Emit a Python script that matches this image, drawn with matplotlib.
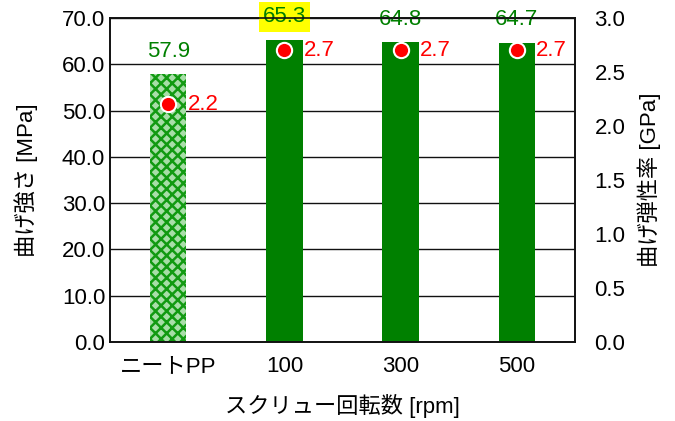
import numpy as np
import matplotlib.pyplot as plt

plt.rcParams['font.family'] = ['Liberation Sans', 'Noto Sans CJK JP']
plt.rcParams['hatch.linewidth'] = 1.8

# data
categories = ["ニートPP", "100", "300", "500"]
strength = [57.9, 65.3, 64.8, 64.7]      # 曲げ強さ [MPa]
modulus = [2.2, 2.7, 2.7, 2.7]           # 曲げ弾性率 [GPa]

green = "#008000"
red = "#ff0000"
fs = 16

fig = plt.figure(figsize=(6.75, 4.21), dpi=100)
ax = fig.add_axes([110 / 675, 1 - 342 / 421, 465 / 675, 324 / 421])
ax2 = ax.twinx()

x = np.arange(len(categories))

# bars: neat PP is hatched, the rest solid
bars = ax.bar(x, strength, width=0.315, color=green, zorder=2)
bars[0].set_facecolor("#a8dea8")
bars[0].set_edgecolor("#129a12")
bars[0].set_hatch("xxx")
bars[0].set_linewidth(0)

ax.set_xlim(-0.5, len(categories) - 0.5)
ax.set_ylim(0, 70)
ax.set_yticks(np.arange(0, 71, 10))
ax.set_yticklabels([f"{v:.1f}" for v in np.arange(0, 71, 10)])
ax.set_xticks(x)
ax.set_xticklabels(categories)
ax.grid(axis="y", color="#111111", linewidth=1.0, zorder=0)
ax.set_axisbelow(True)
ax.tick_params(length=0, labelsize=fs, pad=3.5)
ax.tick_params(axis="x", pad=10)
ax.set_ylabel("曲げ強さ [MPa]", fontsize=fs)
ax.set_xlabel("スクリュー回転数 [rpm]", fontsize=fs)
ax.yaxis.set_label_coords(-0.155, 0.5)
ax.xaxis.set_label_coords(0.5, -0.160)

for i, v in enumerate(strength):
    t = ax.annotate(f"{v:.1f}", (x[i], v), xytext=(0, 16.5),
                    textcoords="offset points", ha="center", va="center",
                    color=green, fontsize=fs, zorder=5)
    if i == 1:
        t.set_bbox(dict(facecolor="#ffff00", edgecolor="none", pad=3))

# modulus points on the secondary axis
ax2.set_ylim(0, 3.0)
ax2.set_yticks(np.arange(0, 3.01, 0.5))
ax2.set_yticklabels([f"{v:.1f}" for v in np.arange(0, 3.01, 0.5)])
ax2.tick_params(length=0, labelsize=fs, pad=14)
ax2.set_ylabel("曲げ弾性率 [GPa]", fontsize=fs)
ax2.yaxis.set_label_coords(1.135, 0.5)
ax2.plot(x, modulus, linestyle="none", marker="o", markersize=11,
         markerfacecolor=red, markeredgecolor="white", markeredgewidth=1.5, zorder=4)
for i, v in enumerate(modulus):
    ax2.annotate(f"{v:.1f}", (x[i], v), xytext=(14, 0), textcoords="offset points",
                 ha="left", va="center", color=red, fontsize=fs)

for a in (ax, ax2):
    for s in a.spines.values():
        s.set_color("#111111")
        s.set_linewidth(1.2)

fig.savefig("out.png", dpi=100)
